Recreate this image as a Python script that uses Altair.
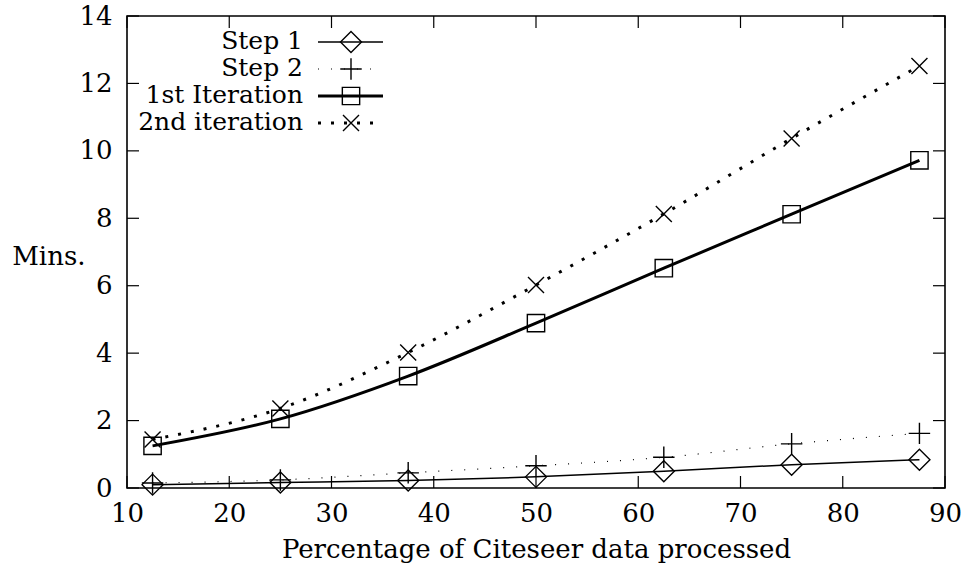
import altair as alt
import pandas as pd

# ---- data ----
x_vals = [12.5, 25, 37.5, 50, 62.5, 75, 87.5]
step1 = [0.10, 0.16, 0.22, 0.33, 0.50, 0.69, 0.84]
step2 = [0.15, 0.24, 0.45, 0.66, 0.91, 1.31, 1.62]
iter1 = [1.25, 2.05, 3.32, 4.89, 6.52, 8.12, 9.72]
iter2 = [1.44, 2.36, 4.02, 6.02, 8.13, 10.37, 12.52]
series_names = ["Step 1", "Step 2", "1st Iteration", "2nd iteration"]
series_values = [step1, step2, iter1, iter2]
x_ticks = [10, 20, 30, 40, 50, 60, 70, 80, 90]
y_ticks = [0, 2, 4, 6, 8, 10, 12, 14]

# ---- layout / style ----
W, H = 818, 472
FONT = "DejaVu Serif"
FS = 26
LFS = 25

styles = {
    "Step 1": dict(width=1.5, dash=None, shape="diamond", size=441),
    "Step 2": dict(width=1.2, dash=[1, 12], shape="M-1,0H1M0,-1V1", size=460),
    "1st Iteration": dict(width=3, dash=None, shape="square", size=300),
    "2nd iteration": dict(width=3, dash=[3, 10], shape="M-1,-1L1,1M-1,1L1,-1", size=256),
}

x_scale = alt.Scale(domain=[10, 90], nice=False, zero=False)
y_scale = alt.Scale(domain=[0, 14], nice=False, zero=False)

x_axis = alt.Axis(values=x_ticks, ticks=False, tickSize=0, domain=False, grid=False,
                  labelFont=FONT, labelFontSize=FS, labelColor="black", labelPadding=12,
                  title="Percentage of Citeseer data processed", titleFont=FONT,
                  titleFontSize=FS, titleFontWeight="normal", titleColor="black",
                  titleBaseline="alphabetic", titleY=69, labelFlush=False)
y_axis = alt.Axis(values=y_ticks, ticks=False, tickSize=0, domain=False, grid=False,
                  labelFont=FONT, labelFontSize=FS, labelColor="black", labelPadding=15,
                  title="Mins.", titleFont=FONT, titleFontSize=FS, titleFontWeight="normal",
                  titleColor="black", titleAngle=0, titleAlign="right",
                  titleBaseline="alphabetic", titleX=-42, titleY=248, labelFlush=False)

X = alt.X("x:Q", scale=x_scale, axis=x_axis)
Y = alt.Y("y:Q", scale=y_scale, axis=y_axis)

layers = []
for name, vals in zip(series_names, series_values):
    st = styles[name]
    df = pd.DataFrame({"x": x_vals, "y": vals, "series": name})
    line_kw = dict(color="black", strokeWidth=st["width"], interpolate="monotone", strokeCap="butt")
    if st["dash"]:
        line_kw["strokeDash"] = st["dash"]
    layers.append(alt.Chart(df).mark_line(**line_kw).encode(x=X, y=Y))
    layers.append(alt.Chart(df).mark_point(shape=st["shape"], size=st["size"], filled=False,
                                           stroke="black", strokeWidth=1.4, opacity=1)
                  .encode(x=X, y=Y))

# inward ticks (gnuplot style)
TL = 12
xt = pd.DataFrame({"x": x_ticks})
yt = pd.DataFrame({"y": y_ticks})
layers.append(alt.Chart(xt).mark_rule(color="black", strokeWidth=1.2)
              .encode(x=X, y=alt.value(H - TL), y2=alt.value(H)))
layers.append(alt.Chart(xt).mark_rule(color="black", strokeWidth=1.2)
              .encode(x=X, y=alt.value(0), y2=alt.value(TL)))
layers.append(alt.Chart(yt).mark_rule(color="black", strokeWidth=1.2)
              .encode(y=Y, x=alt.value(0), x2=alt.value(TL)))
layers.append(alt.Chart(yt).mark_rule(color="black", strokeWidth=1.2)
              .encode(y=Y, x=alt.value(W - TL), x2=alt.value(W)))

# manual legend (labels right-aligned, sample to the right)
legend_rows = [26, 53, 80, 107]
for name, ly in zip(series_names, legend_rows):
    st = styles[name]
    ldf = pd.DataFrame({"label": [name]})
    layers.append(alt.Chart(ldf).mark_text(align="right", baseline="middle", font=FONT,
                                           fontSize=LFS, color="black")
                  .encode(text="label:N", x=alt.value(176), y=alt.value(ly - 1)))
    rule_kw = dict(color="black", strokeWidth=st["width"], strokeCap="butt")
    if st["dash"]:
        rule_kw["strokeDash"] = st["dash"]
    layers.append(alt.Chart(ldf).mark_rule(**rule_kw)
                  .encode(x=alt.value(191), x2=alt.value(256), y=alt.value(ly)))
    layers.append(alt.Chart(ldf).mark_point(shape=st["shape"], size=st["size"], filled=False,
                                            stroke="black", strokeWidth=1.4, opacity=1)
                  .encode(x=alt.value(224), y=alt.value(ly)))

chart = alt.layer(*layers).properties(
    width=W, height=H,
    autosize=alt.AutoSizeParams(type="none"),
    padding={"left": 127, "top": 16, "right": 24, "bottom": 83},
    background="white",
).configure_view(stroke="black", strokeWidth=1.6)

chart.save("out.html", embed_options={"renderer": "svg", "actions": False})
